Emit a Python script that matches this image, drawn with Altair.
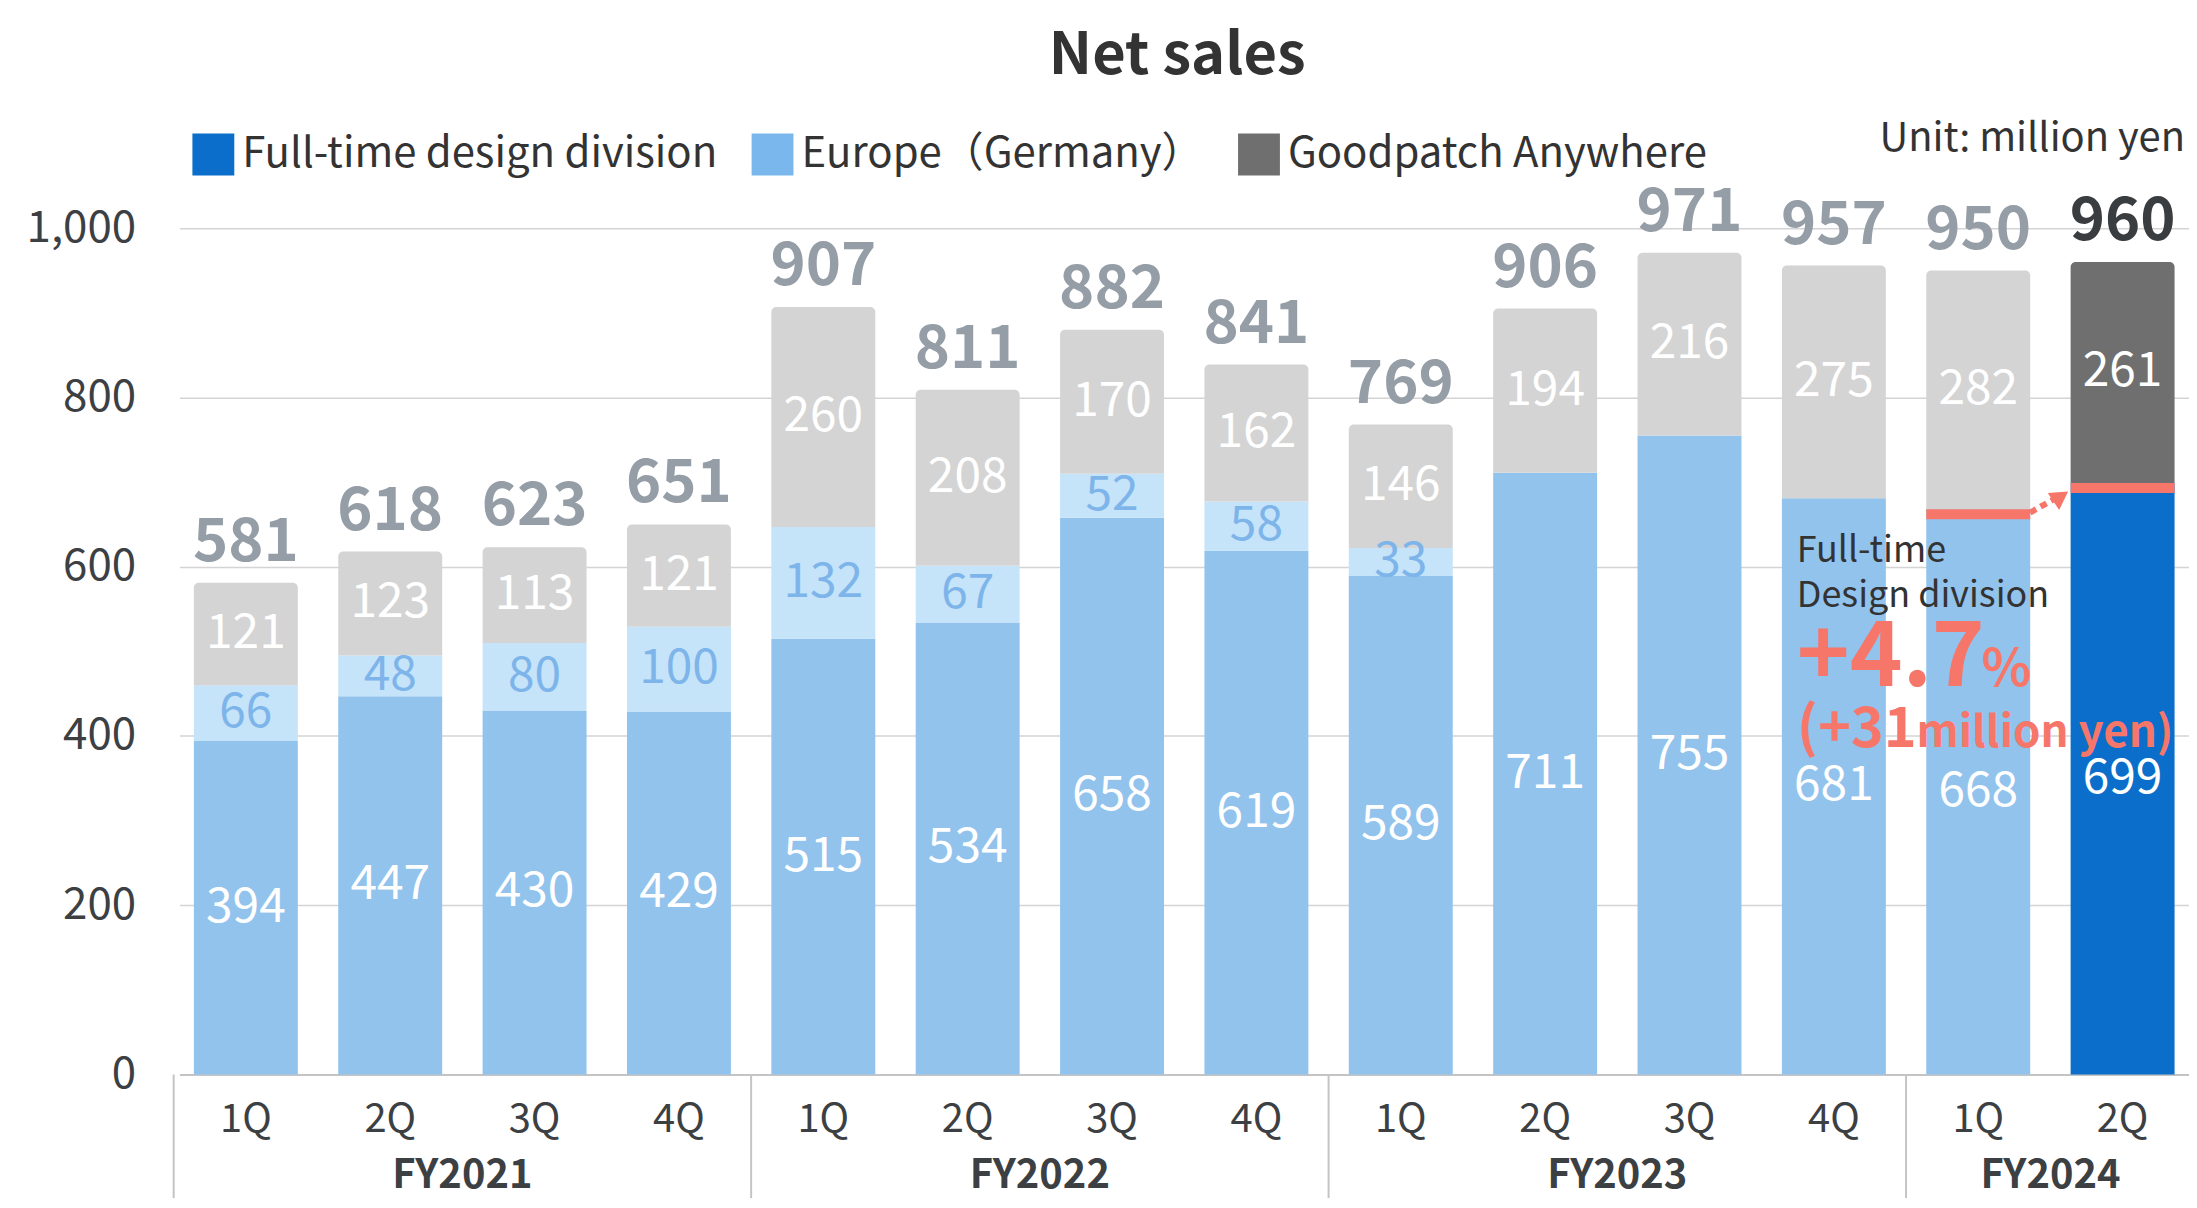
import altair as alt
import pandas as pd

# ---------------- data ----------------
fiscal_years = ["FY2021"] * 4 + ["FY2022"] * 4 + ["FY2023"] * 4 + ["FY2024"] * 2
quarters = ["1Q", "2Q", "3Q", "4Q"] * 3 + ["1Q", "2Q"]
fulltime = [394, 447, 430, 429, 515, 534, 658, 619, 589, 711, 755, 681, 668, 699]
europe = [66, 48, 80, 100, 132, 67, 52, 58, 33, 0, 0, 0, 0, 0]
anywhere = [121, 123, 113, 121, 260, 208, 170, 162, 146, 194, 216, 275, 282, 261]
totals = [581, 618, 623, 651, 907, 811, 882, 841, 769, 906, 971, 957, 950, 960]
series_names = ["Full-time design division", "Europe（Germany）", "Goodpatch Anywhere"]
y_ticks = [0, 200, 400, 600, 800, 1000]
title_text = "Net sales"
unit_text = "Unit: million yen"
growth_pct = "+4.7"
growth_abs = "+31"

FONT = "Noto Sans CJK JP"
W, H = 2016, 849
PI, PO = 0.28, 0.10
keys = [f"{fy}|{q}" for fy, q in zip(fiscal_years, quarters)]
n = len(keys)
step = W / (n - PI + 2 * PO)
last = n - 1

rows = []
for i, k in enumerate(keys):
    y0 = 0
    for s, vals in zip(series_names, [fulltime, europe, anywhere]):
        v = vals[i]
        rows.append(dict(key=k, series=s, value=v, y0=y0, y1=y0 + v, mid=y0 + v / 2,
                         ckey=s if i == last else s + " (past)"))
        y0 += v
seg = pd.DataFrame(rows)
tot = pd.DataFrame(dict(key=keys, top=[a + b + c for a, b, c in zip(fulltime, europe, anywhere)],
                        total=totals, current=[i == last for i in range(n)]))

color_domain = series_names + [s + " (past)" for s in series_names]
color_range = ["#0A6ECA", "#7AB7EC", "#6F6F6F", "#92C3ED", "#C5E3F9", "#D4D4D4"]

xscale = alt.Scale(domain=keys, paddingInner=PI, paddingOuter=PO, round=False)
xaxis = alt.Axis(labelExpr="split(datum.value,'|')[1]", ticks=False, tickSize=0,
                 domainColor="#c4c4c4", domainWidth=2, labelFontSize=40,
                 labelColor="#3c4043", labelPadding=57, labelBaseline="alphabetic",
                 labelAngle=0, grid=False, labelFont=FONT, title=None)


def X(field):
    return alt.X(field, type="nominal", scale=xscale, axis=xaxis, title=None)


yscale = alt.Scale(domain=[0, 1000], nice=False)
yaxis = alt.Axis(values=y_ticks, format=",.0f", domain=False, ticks=False, gridColor="#d4d4d4",
                 gridWidth=1.5, labelFontSize=44, labelPadding=44, labelColor="#3c4043",
                 labelFont=FONT, title=None)


def Y(field):
    return alt.Y(field, type="quantitative", scale=yscale, axis=yaxis, title=None)


color = alt.Color("ckey:N", scale=alt.Scale(domain=color_domain, range=color_range),
                  legend=alt.Legend(values=series_names, title=None, orient="none",
                                    legendX=13, legendY=-95, direction="horizontal",
                                    symbolType="square", symbolSize=1764, symbolStrokeWidth=0,
                                    labelFontSize=42, labelColor="#333333", labelFont=FONT,
                                    labelLimit=800, labelOffset=8, columnPadding=34, padding=0))

base = alt.Chart(seg)
lower = base.transform_filter(alt.datum.series != series_names[2]).mark_bar().encode(
    x=X("key"), y=Y("y0"), y2="y1:Q", color=color)
upper = base.transform_filter(alt.datum.series == series_names[2]).mark_bar(
    cornerRadiusTopLeft=5, cornerRadiusTopRight=5).encode(
    x=X("key"), y=Y("y0"), y2="y1:Q", color=color)

seg_labels = base.transform_filter(alt.datum.value > 0).mark_text(
    fontSize=48, font=FONT, baseline="middle").encode(
    x=X("key"), y=Y("mid"), text="value:Q",
    color=alt.condition(alt.datum.series == series_names[1], alt.value("#7DB5EA"), alt.value("white")))

tot_labels = alt.Chart(tot).mark_text(fontSize=60, fontWeight="bold", font=FONT, dy=-22,
                                      baseline="alphabetic").encode(
    x=X("key"), y=Y("top"), text="total:Q",
    color=alt.condition(alt.datum.current, alt.value("#3a3d40"), alt.value("#959ea6")))

# highlight of the full-time division top in the last two quarters
hl = pd.DataFrame(dict(key=keys[-2:], ft=fulltime[-2:]))
hl["ft_lo"] = hl["ft"] - 12
salmon = "#F7766A"
hl_bars = alt.Chart(hl).mark_bar(color=salmon).encode(x=X("key"), y=Y("ft"), y2="ft_lo:Q")

arrow_df = pd.DataFrame(dict(k1=[keys[-2]], k2=[keys[-1]], ya=[fulltime[-2] - 4], yb=[fulltime[-1] - 16]))
arrow = alt.Chart(arrow_df).mark_rule(color=salmon, strokeWidth=6, strokeDash=[7, 5],
                                      xOffset=52, x2Offset=-64).encode(
    x=X("k1"), x2="k2:N", y=Y("ya"), y2="yb:Q")
head = alt.Chart(arrow_df).mark_point(shape="triangle-up", filled=True, opacity=1, color=salmon,
                                      angle=56, size=420, xOffset=-62).encode(
    x=X("k2"), y=Y("yb"))

# annotation text
ann = pd.DataFrame(dict(key=[keys[-2]] * 2, yv=[605, 552], txt=["Full-time", "Design division"]))
ann_text = alt.Chart(ann).mark_text(fontSize=36, font=FONT, color="#333333", align="left",
                                    baseline="alphabetic", dx=-182).encode(
    x=X("key"), y=Y("yv"), text="txt:N")

big = pd.DataFrame(dict(key=[keys[-2]] * 4, yv=[459, 459, 387, 387],
                        txt=[growth_pct, "%", "(" + growth_abs, "million yen)"]))
big_specs = [(0, 90, -182), (1, 52, 3), (2, 56, -182), (3, 44, -62)]
big_layers = []
for idx, fs, dx in big_specs:
    big_layers.append(alt.Chart(big.iloc[[idx]]).mark_text(
        fontSize=fs, fontWeight="bold", font=FONT, color=salmon, align="left",
        baseline="alphabetic", dx=dx).encode(x=X("key"), y=Y("yv"), text="txt:N"))

# fiscal year separators and labels
fy_names = ["FY2021", "FY2022", "FY2023", "FY2024"]
starts = [keys[fiscal_years.index(f)] for f in fy_names]
anchors = [keys[fiscal_years.index(f) + (1 if fiscal_years.count(f) == 4 else 0)] for f in fy_names]
sep = alt.Chart(pd.DataFrame(dict(key=starts))).mark_rule(
    color="#c4c4c4", strokeWidth=2, xOffset=-step / 2).encode(
    x=X("key"), y=alt.value(H), y2=alt.value(H + 124))
fy_lab = alt.Chart(pd.DataFrame(dict(key=anchors, fy=fy_names))).mark_text(
    fontSize=40, fontWeight="bold", font=FONT, color="#3c4043", dx=step / 2,
    baseline="alphabetic").encode(x=X("key"), y=alt.value(H + 114), text="fy:N")

unit = alt.Chart(pd.DataFrame(dict(t=[unit_text]))).mark_text(
    fontSize=40, font=FONT, color="#333333", align="right", baseline="alphabetic").encode(
    x=alt.value(2012), y=alt.value(-77), text="t:N")

title = alt.Chart(pd.DataFrame(dict(t=[title_text]))).mark_text(
    fontSize=58, fontWeight="bold", font=FONT, color="#333333", align="center",
    baseline="alphabetic").encode(x=alt.value(1001), y=alt.value(-155), text="t:N")

chart = alt.layer(lower, upper, seg_labels, tot_labels, hl_bars, arrow, head, ann_text,
                  *big_layers, sep, fy_lab, unit, title).properties(
    width=W, height=H,
    padding={"left": 172, "top": 219, "right": 0, "bottom": 124},
    autosize=alt.AutoSizeParams(type="none"),
).configure_view(stroke=None)

chart.save("out.html", embed_options={"renderer": "svg", "actions": False})
